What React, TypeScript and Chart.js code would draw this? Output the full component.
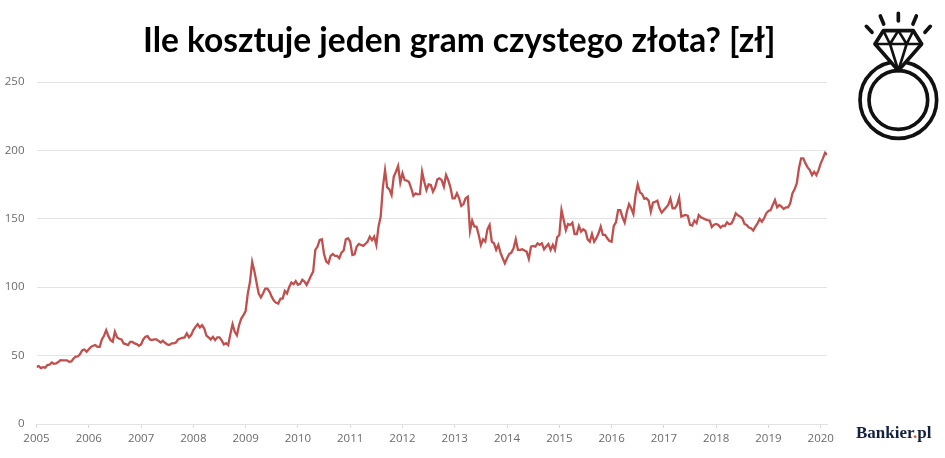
import React, { useEffect, useRef } from "react";
import { Chart, registerables } from "chart.js";

Chart.register(...registerables);

const titleText = "Ile kosztuje jeden gram czystego złota? [zł]";
const yearTicks = [2005, 2006, 2007, 2008, 2009, 2010, 2011, 2012, 2013, 2014, 2015, 2016, 2017, 2018, 2019, 2020];
const valueTicks = [0, 50, 100, 150, 200, 250];
const stepsPerYear = 24;

const p2005 = [41.8, 42.3, 40.9, 41.6, 41.2, 43.1, 43.3, 45, 44, 44.3, 45.3, 46.7, 46.5, 46.5, 46.5, 45.5, 45.8, 47.9, 49.2, 49.4, 51.1, 54, 54.5, 52.8];
const p2006 = [54.7, 56.4, 57.2, 57.7, 56.4, 56.4, 61.8, 64.5, 68.6, 64.2, 61.3, 60.1, 67.4, 63.3, 62.3, 61.8, 58.9, 58.4, 57.7, 60.1, 60.1, 58.9, 58.4, 57.2];
const p2007 = [58.2, 61.8, 63.7, 64.2, 61.8, 61.3, 61.8, 61.8, 60.8, 59.6, 60.8, 59.4, 58.2, 57.7, 58.9, 58.9, 59.6, 61.8, 62.5, 63, 63.3, 66.2, 63.3, 65];
const p2008 = [68.6, 71, 73, 70.6, 72.3, 69.8, 64.7, 63.3, 61.8, 63.7, 61.3, 63.3, 63.3, 61.1, 58.2, 59.1, 57.7, 65.7, 73, 67.4, 64.9, 72.3, 77.1, 79.6];
const p2009 = [82.5, 95.4, 103.9, 118.5, 111.9, 103.4, 95.4, 92.5, 95.4, 99, 99, 96.6, 92.9, 90, 88.6, 88.1, 91.7, 91.7, 97.3, 95.4, 100.2, 103.4, 102.2, 104.4];
const p2010 = [101.7, 102.4, 105.4, 104.1, 101.7, 104.9, 108.3, 111.4, 127.3, 129.7, 134.5, 135, 124.3, 118.7, 117.5, 122.9, 124.3, 122.9, 122.9, 121.2, 125.3, 126.8, 135, 135.8];
const p2011 = [133.3, 123.6, 124.1, 129.7, 131.6, 130.9, 130.2, 131.6, 133.3, 137, 134.5, 137, 130.9, 144.3, 151.6, 173, 185.6, 173, 171.5, 167.4, 180.8, 184.4, 188.6, 176.4];
const p2012 = [183.2, 178.3, 177.9, 176.9, 172.3, 166.9, 168.6, 167.9, 168.1, 184.4, 177.1, 171, 175.2, 174.7, 169.8, 173, 178.8, 179.6, 178.3, 173.5, 182, 178.3, 173, 165];
const p2013 = [165, 168.6, 165, 159.4, 160.8, 165, 166.2, 141.1, 148.7, 144.3, 144.3, 138.2, 130.9, 135, 133.3, 142.3, 145.5, 133.3, 132.1, 127.3, 130.9, 125.3, 121.2, 117.5];
const p2014 = [121.2, 124.3, 125.3, 128.5, 135, 127.3, 127.3, 127.7, 126.8, 126, 120.7, 129.7, 130.2, 129.7, 132.1, 130.9, 132.1, 127.7, 129.7, 131.6, 127.3, 130.9, 127.3, 136.5];
const p2015 = [138.2, 156.4, 149.1, 141.8, 146.2, 145.5, 147.2, 138.9, 138.9, 144.8, 140.6, 142.3, 141.1, 135, 133.3, 138.9, 133.3, 135.8, 139.4, 144.3, 138.2, 138.2, 135.8, 133.8];
const p2016 = [133.3, 144.8, 147.4, 156.4, 156.4, 151.1, 147.2, 155.2, 160.8, 157.7, 153.5, 167.4, 175.2, 169.3, 168.1, 164.7, 165, 163.3, 155.2, 161.8, 162.5, 163.3, 157.7, 154.5];
const p2017 = [156.4, 158.2, 160.1, 164.7, 157.7, 157.7, 160.1, 165.5, 151.6, 152.3, 152.8, 152.1, 145.5, 145, 148.7, 146.8, 152.8, 151.1, 150.4, 149.6, 149.1, 148.7, 144, 145.7];
const p2018 = [146.2, 145.5, 143.6, 145, 144.8, 147.4, 146, 146.5, 149.6, 154, 152.6, 151.6, 150.4, 146.2, 145.5, 143.6, 143.1, 141.4, 144.3, 146.7, 149.9, 147.9, 150.4, 154];
const p2019 = [155.7, 156.4, 160.1, 163.7, 158.4, 160.1, 158.9, 157.2, 158.4, 158.4, 161.3, 168.6, 171.5, 175.9, 186.9, 194.2, 194.2, 190.5, 187.6, 185.6, 182, 184.4, 182, 185.6];
const p2020 = [190.5, 194.2, 198.3, 196.9];

const pricesByYear = [p2005, p2006, p2007, p2008, p2009, p2010, p2011, p2012, p2013, p2014, p2015, p2016, p2017, p2018, p2019, p2020];

const points = pricesByYear.flatMap((vals, k) =>
  vals.map((y, i) => ({ x: yearTicks[k] + i / stepsPerYear, y }))
);

const tickFont = { family: "'Open Sans'", size: 11.5 };
const tickColor = "#6b6b6b";
const gridColor = "#e3e3e3";

function RingIcon() {
  return (
    <svg
      width={100}
      height={150}
      viewBox="0 0 300 450"
      style={{ position: "absolute", left: 845, top: 0 }}
      fill="none"
      stroke="#111"
      strokeWidth={11}
      strokeLinejoin="round"
      strokeLinecap="round"
    >
      <circle cx={160} cy={300} r={115} />
      <circle cx={160} cy={300} r={88} />
      <path d="M115 92 H205 L230 132 L160 212 L90 132 Z" fill="#fff" />
      <path d="M90 132 H230 M115 92 L135 132 L160 92 L185 132 L205 92 M135 132 L160 212 L185 132" strokeWidth={8} />
      <path d="M160 40 V63 M106 48 L116 72 M214 48 L204 72 M64 79 L81 97 M256 79 L240 97" />
    </svg>
  );
}

export default function App() {
  const ref = useRef<HTMLCanvasElement>(null);

  useEffect(() => {
    document.body.style.margin = "0";
    const chart = new Chart(ref.current!, {
      type: "line",
      data: {
        datasets: [
          {
            data: points,
            borderColor: "#c0504d",
            borderWidth: 2.3,
            pointRadius: 0,
            tension: 0,
            fill: false,
          },
        ],
      },
      options: {
        responsive: false,
        animation: false,
        parsing: false,
        layout: { padding: { top: 82, right: 118, left: 0, bottom: 0 } },
        plugins: { legend: { display: false }, title: { display: false }, tooltip: { enabled: false } },
        scales: {
          x: {
            type: "linear",
            min: 2005,
            max: 2020.12,
            afterFit: (s: any) => {
              s.height = 34;
            },
            afterBuildTicks: (s: any) => {
              s.ticks = yearTicks.map((value) => ({ value }));
            },
            grid: { drawOnChartArea: false, drawTicks: true, tickLength: 4, color: "#d9d9d9" },
            border: { display: true, color: gridColor },
            ticks: {
              maxRotation: 0,
              autoSkip: false,
              padding: 4,
              color: tickColor,
              font: tickFont,
              callback: (v: any) => String(v),
            },
          },
          y: {
            min: 0,
            max: 250,
            afterFit: (s: any) => {
              s.width = 36.5;
            },
            afterBuildTicks: (s: any) => {
              s.ticks = valueTicks.map((value) => ({ value }));
            },
            grid: { color: gridColor, drawTicks: false, lineWidth: 1 },
            border: { display: false },
            ticks: { padding: 12, color: tickColor, font: tickFont },
          },
        },
      },
    });
    return () => chart.destroy();
  }, []);

  return (
    <div style={{ position: "relative", width: 945, height: 458, overflow: "hidden", background: "#fff" }}>
      <canvas ref={ref} width={945} height={458} style={{ display: "block" }} />
      <div
        style={{
          position: "absolute",
          left: 143,
          top: 17,
          width: 640,
          whiteSpace: "nowrap",
          font: "bold 33.5px Lato, sans-serif",
          color: "#000",
          lineHeight: "44px",
        }}
      >
        {titleText}
      </div>
      <RingIcon />
      <div
        style={{
          position: "absolute",
          left: 856,
          top: 423,
          font: "bold 17px 'Liberation Serif', serif",
          color: "#14223f",
          lineHeight: "20px",
          whiteSpace: "nowrap",
        }}
      >
        Bankier<span style={{ color: "#d9541e" }}>.</span>pl
      </div>
    </div>
  );
}
